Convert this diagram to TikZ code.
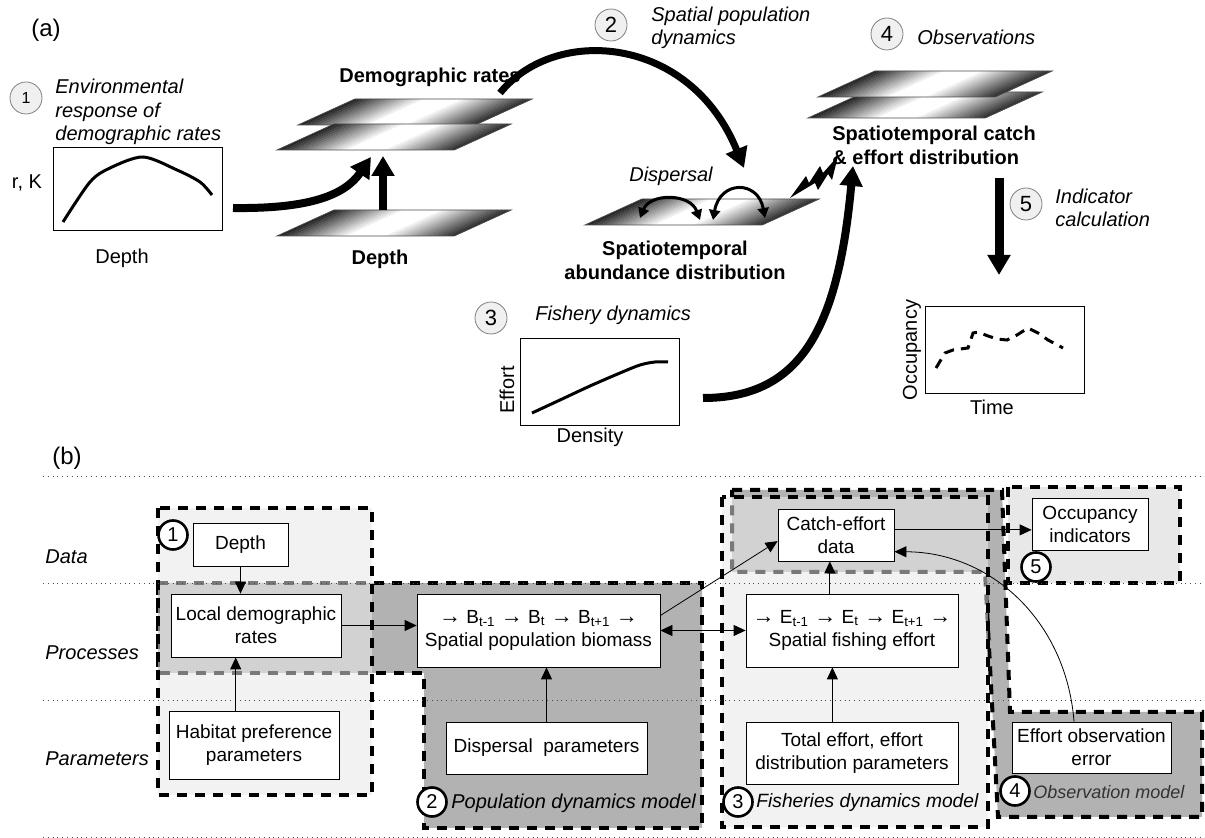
\documentclass[tikz,border=0pt]{standalone}
\usepackage{fontspec}
\setmainfont{Liberation Sans}
\usetikzlibrary{arrows.meta}
\usetikzlibrary{positioning}

% one shaded map layer, given by its lower left corner (dark ends, white middle)
\newcommand{\slab}[2]{%
    \foreach \i in {0,...,35} {%
        \pgfmathsetmacro{\slabt}{\i/35}%
        \pgfmathsetmacro{\slabd}{85*max(0,1-\slabt/0.4) + 80*max(0,(\slabt-0.6)/0.4)}%
        \fill[black!\slabd] ({#1+177*\i/36},#2) -- ({#1+177*(\i+1)/36+0.6},#2) -- ({#1+57+177*(\i+1)/36+0.6},#2-26) -- ({#1+57+177*\i/36},#2-26) -- cycle;
    }%
    \draw[black!70, thin] (#1,#2) -- ++(177,0) -- ++(57,-26) -- ++(-177,0) -- cycle;
}
% time step arrow inside the process boxes
\newcommand{\nxt}{{\fontsize{11}{11}\selectfont\bfseries →}}

\begin{document}
\begin{tikzpicture}[x=0.5pt, y=-0.5pt,
    numa/.style={circle, draw=gray, fill=gray!12, minimum size=16pt, inner sep=0pt, font=\fontsize{11}{12}\selectfont},
    numb/.style={circle, draw, line width=1.3pt, fill=white, minimum size=14.5pt, inner sep=0pt, font=\fontsize{10}{11}\selectfont},
    itext/.style={font=\fontsize{10}{11.75}\selectfont\itshape, align=left, anchor=west, inner sep=0pt},
    btext/.style={font=\fontsize{10}{12}\selectfont\bfseries, align=center, inner sep=0pt},
    box/.style={draw, fill=white, align=center, inner sep=0.5pt, font=\fontsize{9.5}{11.5}\selectfont},
    plotbox/.style={draw, thin, inner sep=0pt},
    modelbox/.style={draw, line width=2pt, dash pattern=on 5pt off 4pt},
    bigarrow/.style={line width=4pt, -{Triangle[length=10pt,width=11pt]}},
    thinarrow/.style={thin, -{Triangle[length=6pt,width=5.5pt]}},
    rowline/.style={dotted, black!70, thin}]

\useasboundingbox (0,0) rectangle (1205,838);

% ---------------- (a) ----------------
\node (alabel) [font=\fontsize{12}{14}\selectfont] at (46,30) {(a)};

% step 1: environmental response
\node (n1a) [numa, font=\fontsize{8}{9}\selectfont] at (26,98) {1};
\node (envtext) [itext] at (55,112) {Environmental\\response of\\demographic rates};
\node (rkplot) [plotbox, minimum width=84.5pt, minimum height=41.5pt] at (137.5,188.5) {};
\draw[line width=1.5pt] plot[smooth] coordinates {(63,222) (90,182) (110,168) (143,157) (177,170) (200,182) (212,195)};
\node (rky) at (27,183) {r, K};
\node (rkx) at (122,258) {Depth};

% demographic rate layers and depth layer
\slab{298}{125}
\slab{277}{150}
\slab{277}{236}
\node (demotext) [btext] at (430,77) {Demographic rates};
\node (depthtext) [btext] at (380,259) {Depth};

% step 2: spatial population dynamics
\slab{585}{225}
\node (n2a) [numa] at (611,25) {2};
\node (spdtext) [itext] at (651,28) {Spatial population\\dynamics};
\node (disptext) [itext, anchor=center] at (671,176) {Dispersal};
\node (abtext) [btext] at (675,260) {Spatiotemporal\\abundance distribution};

% step 3: fishery dynamics
\node (n3a) [numa] at (491,318) {3};
\node (fishtext) [itext] at (535,315) {Fishery dynamics};
\node (efplot) [plotbox, minimum width=79.5pt, minimum height=43.5pt] at (599.5,381.5) {};
\draw[line width=1.5pt] plot[smooth] coordinates {(532,413) (560,400) (590,386) (620,373) (640,365) (655,362) (668,362)};
\node (efy) [rotate=90] at (507,390) {Effort};
\node (efx) at (590,437) {Density};

% step 4: observations
\slab{808}{118}
\slab{818}{97}
\node (n4a) [numa] at (887,34) {4};
\node (obstext) [itext] at (917,37) {Observations};
\node (catchtext) [btext, align=left, anchor=west] at (832,145) {Spatiotemporal catch\\\& effort distribution};

% step 5: indicators
\node (n5a) [numa] at (1026,204) {5};
\node (indtext) [itext] at (1055,208) {Indicator\\calculation};
\node (occplot) [plotbox, minimum width=79.5pt, minimum height=43.5pt] at (1004.5,349.5) {};
\draw[line width=1.5pt, dash pattern=on 5pt off 3.5pt] (936,368) -- (945,353) -- (953,350) -- (968,348) -- (973,333) -- (978,332) -- (988,336) -- (997,339) -- (1007,340) -- (1017,335) -- (1028,328) -- (1038,333) -- (1048,340) -- (1063,348);
\node (occy) [rotate=90] at (912,350) {Occupancy};
\node (occx) at (992,407) {Time};

% thick arrows of (a)
\coordinate (rkout) at (233,208);
\coordinate (demoin) at (371,157);
\coordinate (depthtop) at (383,210);
\coordinate (demobot) at (383,156);
\coordinate (demoout) at (500,93);
\coordinate (dispin) at (744,168);
\coordinate (effout) at (703,398);
\coordinate (catchin) at (853,166);
\coordinate (catchdown) at (999,178);
\coordinate (occin) at (999,275);
\draw[bigarrow] (rkout) .. controls (310,209) and (345,195) .. (demoin);
\draw[bigarrow] (depthtop) -- (demobot);
\draw[bigarrow, line width=3.5pt] (demoout) .. controls (555,25) and (690,35) .. (dispin);
\draw[bigarrow] (effout) .. controls (800,398) and (838,330) .. (catchin);
\draw[bigarrow, line width=4.5pt] (catchdown) -- (occin);

% dispersal between cells
\coordinate (d1) at (640,218);
\coordinate (d2) at (700,220);
\coordinate (d3) at (713,220);
\coordinate (d4) at (765,218);
\draw[line width=1.5pt, {Triangle[length=5pt,width=5.5pt]}-{Triangle[length=5pt,width=5.5pt]}] (d1) .. controls (650,193) and (690,193) .. (d2);
\draw[line width=1.5pt, {Triangle[length=5pt,width=5.5pt]}-{Triangle[length=5pt,width=5.5pt]}] (d3) .. controls (720,180) and (758,180) .. (d4);

% sampling bolt
\fill (790,198) -- (806,176) -- (809,183) -- (820,166) -- (823,173) -- (838,156) -- (832,180) -- (828,174) -- (818,190) -- (815,183) -- cycle;

% ---------------- (b) ----------------
\node (blabel) [font=\fontsize{12}{14}\selectfont] at (67,458) {(b)};

% model boxes, drawn so the overlaps show through
\fill[gray!10] (158,508) rectangle (372,795);
\fill[gray!10] (722,497) rectangle (988,827);
\draw[modelbox, fill=gray!60] (158,583) -- (702,583) -- (702,828) -- (424,828) -- (424,673) -- (158,673) -- cycle;
\draw[modelbox, fill=gray!60] (732,490) -- (1002,490) -- (1010,712) -- (1202,712) -- (1202,817) -- (998,817) -- (985,572) -- (732,572) -- cycle;
\draw[modelbox, fill=gray!10, fill opacity=0.5] (158,508) rectangle (372,795);
\draw[modelbox, fill=gray!10, fill opacity=0.5] (722,497) rectangle (988,827);
\draw[modelbox, fill=gray!18] (1008,487) rectangle (1180,583);

% rows
\foreach \y in {476,583,700,837}
    \draw[rowline] (43,\y) -- (1205,\y);
\node (datalab) [itext] at (45,557) {Data};
\node (proclab) [itext] at (45,653) {Processes};
\node (parlab) [itext] at (45,759) {Parameters};

% boxes
\node (depth) [box, minimum width=47.5pt, minimum height=21.5pt] at (240.5,544.5) {Depth};
\node (local) [box, minimum width=85pt, minimum height=31.5pt] at (256,625.5) {Local demographic\\rates};
\node (habitat) [box, minimum width=85pt, minimum height=34pt] at (254,745) {Habitat preference\\parameters};
\node (bio) [box, minimum width=121.5pt, minimum height=36.5pt] at (538.5,630.5) {\nxt{} B\textsubscript{t-1} \nxt{} B\textsubscript{t} \nxt{} B\textsubscript{t+1} \nxt\\Spatial population biomass};
\node (disp) [box, minimum width=100.5pt, minimum height=26pt] at (546.5,748) {Dispersal\ \ parameters};
\node (catch) [box, minimum width=58pt, minimum height=26pt] at (836,535) {Catch-effort\\data};
\node (eff) [box, minimum width=106pt, minimum height=36.5pt] at (852,630.5) {\nxt{} E\textsubscript{t-1} \nxt{} E\textsubscript{t} \nxt{} E\textsubscript{t+1} \nxt\\Spatial fishing effort};
\node (total) [box, minimum width=106pt, minimum height=31pt] at (852,753) {Total effort, effort\\distribution parameters};
\node (occ) [box, minimum width=58pt, minimum height=26pt] at (1090,524) {Occupancy\\indicators};
\node (err) [box, minimum width=79.5pt, minimum height=25.5pt] at (1091.5,747.5) {Effort observation\\error};

% links
\draw[thinarrow] (depth.south) -- (depth.south |- local.north);
\draw[thinarrow] (habitat.118) -- (habitat.118 |- local.south);
\draw[thinarrow] (local.east) -- (local.east -| bio.west);
\draw[thinarrow] (disp.north) -- (disp.north |- bio.south);
\draw[thinarrow] (bio.7) -- (catch.186);
\draw[thinarrow, {Triangle[length=6pt,width=5.5pt]}-{Triangle[length=6pt,width=5.5pt]}] (bio.east) -- (bio.east -| eff.west);
\draw[thinarrow] (total.122) -- (total.122 |- eff.south);
\draw[thinarrow] (eff.121) -- (eff.121 |- catch.south);
\draw[thinarrow] (catch.5) -- (catch.5 -| occ.west);
\draw[thinarrow] (err.124) .. controls (1066,620) and (990,552) .. (catch.344);

% model numbers
\node (n1b) [numb] at (173,535) {1};
\node (n2b) [numb] at (432,802) {2};
\node (n3b) [numb] at (738,802) {3};
\node (n4b) [numb] at (1015,791) {4};
\node (n5b) [numb] at (1036,567) {5};
\node (popmod) [itext] at (451,803) {Population dynamics model};
\node (fishmod) [itext, font=\fontsize{9.6}{11}\selectfont\itshape] at (756,803) {Fisheries dynamics model};
\node (obsmod) [itext, font=\fontsize{9}{11}\selectfont\itshape, black!80] at (1033,792) {Observation model};
\end{tikzpicture}
\end{document}
